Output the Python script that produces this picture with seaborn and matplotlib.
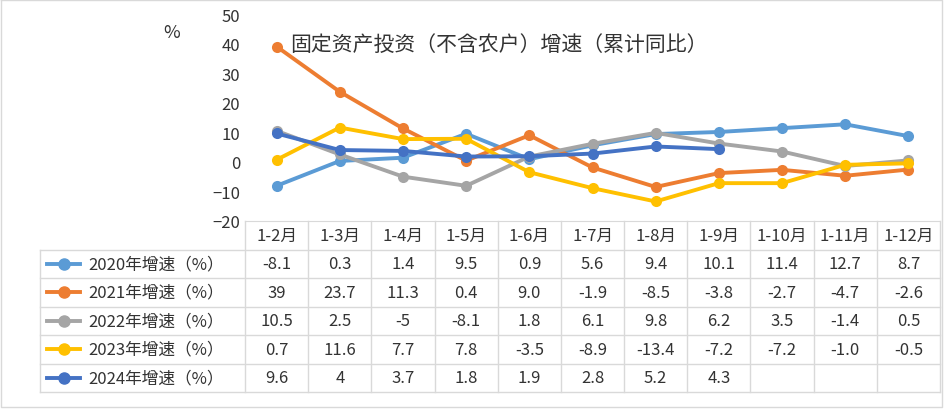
import matplotlib
matplotlib.use("Agg")
import matplotlib.pyplot as plt
from matplotlib import font_manager as fm
import seaborn as sns
import numpy as np
import pandas as pd

cjk = None
for f in fm.findSystemFonts():
    if "CJK" in f or "cjk" in f.lower():
        try:
            fm.fontManager.addfont(f)
            nm = fm.FontProperties(fname=f).get_name()
            if cjk is None or "SC" in nm:
                cjk = nm
        except Exception:
            pass
plt.rcParams["font.family"] = [cjk or "Noto Sans CJK SC", "DejaVu Sans"]

months = ["1-2月","1-3月","1-4月","1-5月","1-6月","1-7月","1-8月","1-9月","1-10月","1-11月","1-12月"]
series_names = ["2020年增速（%）","2021年增速（%）","2022年增速（%）","2023年增速（%）","2024年增速（%）"]
v2020 = [-8.1,0.3,1.4,9.5,0.9,5.6,9.4,10.1,11.4,12.7,8.7]
v2021 = [39,23.7,11.3,0.4,9.0,-1.9,-8.5,-3.8,-2.7,-4.7,-2.6]
v2022 = [10.5,2.5,-5,-8.1,1.8,6.1,9.8,6.2,3.5,-1.4,0.5]
v2023 = [0.7,11.6,7.7,7.8,-3.5,-8.9,-13.4,-7.2,-7.2,-1.0,-0.5]
v2024 = [9.6,4,3.7,1.8,1.9,2.8,5.2,4.3,None,None,None]
labels2020 = ["-8.1","0.3","1.4","9.5","0.9","5.6","9.4","10.1","11.4","12.7","8.7"]
labels2021 = ["39","23.7","11.3","0.4","9.0","-1.9","-8.5","-3.8","-2.7","-4.7","-2.6"]
labels2022 = ["10.5","2.5","-5","-8.1","1.8","6.1","9.8","6.2","3.5","-1.4","0.5"]
labels2023 = ["0.7","11.6","7.7","7.8","-3.5","-8.9","-13.4","-7.2","-7.2","-1.0","-0.5"]
labels2024 = ["9.6","4","3.7","1.8","1.9","2.8","5.2","4.3","","",""]
colors = ["#5B9BD5","#ED7D31","#A5A5A5","#FFC000","#4472C4"]

allvals = [v2020,v2021,v2022,v2023,v2024]
alllabels = [labels2020,labels2021,labels2022,labels2023,labels2024]
rows = []
for name, vals in zip(series_names, allvals):
    for i, v in enumerate(vals):
        rows.append({"series": name, "x": i, "v": np.nan if v is None else v})
df = pd.DataFrame(rows)

W, H = 944, 410
fig = plt.figure(figsize=(W/100, H/100), dpi=100)
L, R, T, B = 245, 940, 15, 222
ax = fig.add_axes([L/W, 1-B/H, (R-L)/W, (B-T)/H])
sns.lineplot(data=df, x="x", y="v", hue="series", palette=colors, marker="o",
             markersize=8, linewidth=2.8, markeredgewidth=0, legend=False, ax=ax)
n = len(months)
ax.set_xlim(-0.5, n-0.5)
ax.set_ylim(-20, 50)
ax.set_yticks(range(-20, 51, 10))
ax.tick_params(axis="y", length=0, labelsize=12, colors="#333333")
ax.set_xticks([])
ax.set_xlabel(""); ax.set_ylabel("")
for s in ["top","right","left"]:
    ax.spines[s].set_visible(False)
ax.spines["bottom"].set_color("#D9D9D9")
ax.patch.set_alpha(0)
fig.text(172/W, 1-33/H, "%", fontsize=13, ha="center", va="center", color="#333333")
fig.text(290/W, 1-45/H, "固定资产投资（不含农户）增速（累计同比）", fontsize=15, ha="left", va="center", color="#333333")

tx = fig.add_axes([0, 0, 1, 1])
tx.set_xlim(0, W); tx.set_ylim(H, 0); tx.axis("off")
TL, TT, RH = 40, 222, 28.5
cw = (R-L)/n
gc = "#D9D9D9"
ntot = 6
bottom = TT + RH*ntot
for k in range(n+1):
    tx.plot([L+cw*k]*2, [TT, bottom], color=gc, lw=1)
tx.plot([TL, TL], [TT+RH, bottom], color=gc, lw=1)
for r in range(1, ntot+1):
    tx.plot([TL, R], [TT+RH*r]*2, color=gc, lw=1)
for k, m in enumerate(months):
    tx.text(L+cw*(k+0.5), TT+RH/2, m, ha="center", va="center", fontsize=12, color="#333333")
for r, (name, labs, c) in enumerate(zip(series_names, alllabels, colors)):
    yc = TT+RH*(r+1.5)
    tx.plot([47, 80], [yc, yc], color=c, lw=2.8)
    tx.plot([63.5], [yc], "o", color=c, ms=8)
    tx.text(88, yc, name, ha="left", va="center", fontsize=12, color="#333333")
    for k, t in enumerate(labs):
        tx.text(L+cw*(k+0.5), yc, t, ha="center", va="center", fontsize=12, color="#333333")
tx.plot([1, W-2, W-2, 1, 1], [1, 1, H-2, H-2, 1], color="#D9D9D9", lw=1)
fig.savefig("out.png", dpi=100)
